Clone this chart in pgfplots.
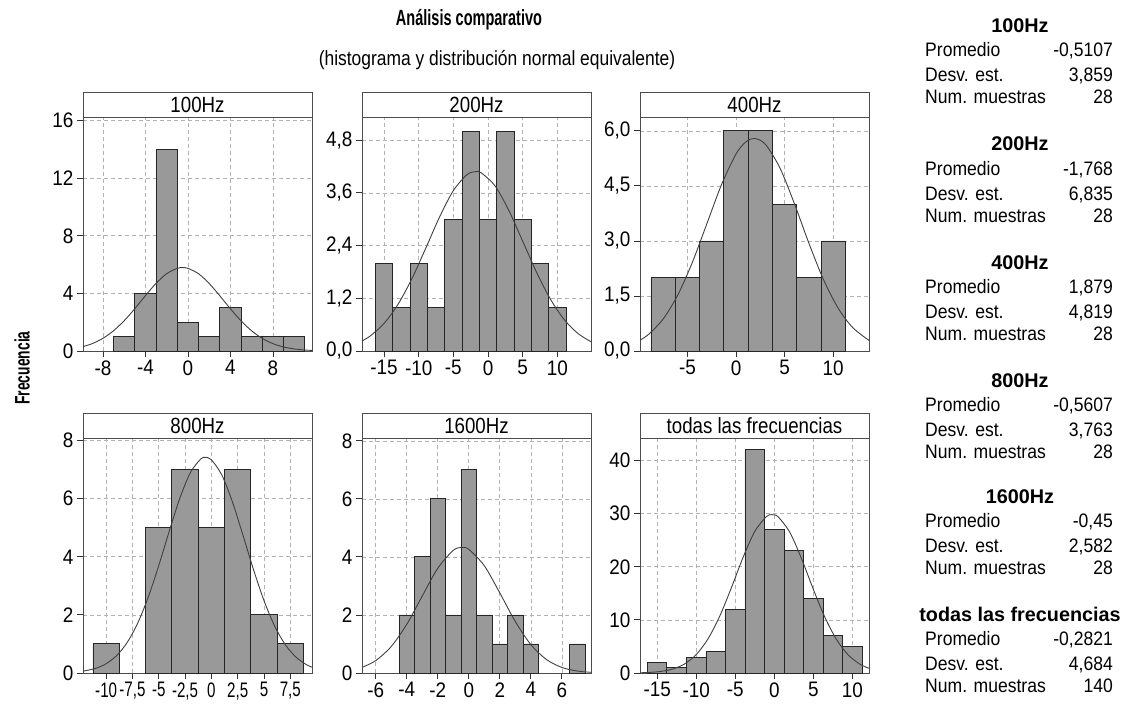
\documentclass[border=0pt]{standalone}
\usepackage{fontspec}
\setmainfont{Liberation Sans}
\newfontfamily\nf{Liberation Sans}[FakeStretch=0.85]
\newfontfamily\tf{Liberation Sans}[FakeStretch=0.9]
\newfontfamily\tfn{Liberation Sans}[FakeStretch=0.72]
\newfontfamily\statf{Liberation Sans}[FakeStretch=0.9]
\newfontfamily\titf{Liberation Sans}[FakeStretch=0.66]
\usepackage{pgfplots}
\pgfplotsset{compat=1.18}
\colorlet{framecol}{black!70}
\pgfplotsset{
 panel/.style={
   scale only axis, width=229pt, anchor=south west,
   axis line style={draw=framecol, line width=0.9pt},
   grid=major, major grid style={black!30, dash pattern=on 4pt off 3pt, line width=0.7pt},
   tick align=outside, tick pos=left, major tick length=6pt,
   tick style={black!80, line width=0.9pt},
   tick label style={font=\tf\fontsize{21}{21}\selectfont},
   /pgf/number format/assume math mode=true,
   /pgf/number format/use comma,
   clip=false,
 },
 bars/.style={ybar, bar shift=0pt, fill=black!40, draw=black!85, line width=0.9pt},
 curve/.style={smooth, black!75, line width=0.9pt, mark=none},
}
\newcommand{\header}[1]{%
  \draw[framecol, line width=0.9pt, fill=white] (rel axis cs:0,1) rectangle ([yshift=25pt]rel axis cs:1,1);
  \node[font=\nf\fontsize{22}{22}\selectfont, anchor=base, inner sep=0pt] at ([yshift=4.6pt]rel axis cs:0.5,1) {#1};}
\newcommand{\statblock}[5]{%
  \pgfmathsetmacro{\yh}{708-#1-7.1}
  \pgfmathsetmacro{\ya}{708-#1-25-7}
  \pgfmathsetmacro{\yb}{708-#1-50-7}
  \pgfmathsetmacro{\yc}{708-#1-72-7}
  \node[anchor=base, font=\bfseries\fontsize{19.8}{20}\selectfont, inner sep=0pt] at (1020pt,\yh pt) {#2};
  \node[anchor=base west, font=\statf\fontsize{19.5}{20}\selectfont, inner sep=0pt] at (925pt,\ya pt) {Promedio};
  \node[anchor=base east, font=\statf\fontsize{19.5}{20}\selectfont, inner sep=0pt] at (1113pt,\ya pt) {#3};
  \node[anchor=base west, font=\statf\fontsize{19.5}{20}\selectfont, inner sep=0pt] at (925pt,\yb pt) {Desv. est.};
  \node[anchor=base east, font=\statf\fontsize{19.5}{20}\selectfont, inner sep=0pt] at (1113pt,\yb pt) {#4};
  \node[anchor=base west, font=\statf\fontsize{19.5}{20}\selectfont, inner sep=0pt] at (925pt,\yc pt) {Num. muestras};
  \node[anchor=base east, font=\statf\fontsize{19.5}{20}\selectfont, inner sep=0pt] at (1113pt,\yc pt) {#5};
}
\begin{document}
\begin{tikzpicture}
\path[use as bounding box] (0pt,0pt) rectangle (1129pt,708pt);

% titles
\node[font=\titf\bfseries\fontsize{22}{22}\selectfont] at (469pt,688pt) {Análisis comparativo};
\node[font=\nf\fontsize{20.5}{20.5}\selectfont] at (497pt,648pt) {(histograma y distribución normal equivalente)};
\node[rotate=90, font=\titf\bfseries\fontsize{21}{21}\selectfont] at (22pt,340pt) {Frecuencia};

% ---------- 100Hz
\begin{axis}[panel, at={(83pt,357pt)}, height=234pt,
  xmin=-9.88, xmax=11.67, ymin=0, ymax=16.25,
  xtick={-8,-4,0,4,8}, ytick={0,4,8,12,16}]
\addplot[bars, bar width=2] coordinates {(-6,1) (-4,4) (-2,14) (0,2) (2,1) (4,3) (6,1) (8,1) (10,1)};
\addplot[curve] coordinates {(-9.88,0.3038) (-9,0.5148) (-8,0.8804) (-7,1.4078) (-6,2.1049) (-5,2.9427) (-4,3.8464) (-3,4.7017) (-2,5.3735) (-1,5.7426) (-0.5107,5.789) (0,5.7385) (1,5.3619) (2,4.6847) (3,3.8272) (4,2.9236) (5,2.0884) (6,1.3947) (7,0.8709) (8,0.5086) (9,0.2778) (10,0.1418) (11,0.0677) (11.67,0.0397)};
\header{100Hz}
\end{axis}

% ---------- 200Hz
\begin{axis}[panel, at={(362pt,357pt)}, height=234pt,
  xmin=-18.18, xmax=14.86, ymin=0, ymax=5.33,
  xtick={-15,-10,-5,0,5,10}, ytick={0,1.2,2.4,3.6,4.8},
  yticklabel style={/pgf/number format/.cd, fixed, fixed zerofill, precision=1}]
\addplot[bars, bar width=2.5] coordinates {(-15,2) (-12.5,1) (-10,2) (-7.5,1) (-5,3) (-2.5,5) (0,3) (2.5,5) (5,3) (7.5,2) (10,1)};
\addplot[curve] coordinates {(-18.18,0.2287) (-17,0.3410) (-15,0.6272) (-13,1.0589) (-11,1.6410) (-9,2.3342) (-7,3.0481) (-5,3.6535) (-3,4.0199) (-1.768,4.0857) (-1,4.0600) (1,3.7640) (3,3.2034) (5,2.5024) (7,1.7945) (9,1.1811) (11,0.7138) (13,0.3959) (14.86,0.2119)};
\header{200Hz}
\end{axis}

% ---------- 400Hz
\begin{axis}[panel, at={(640pt,357pt)}, height=234pt,
  xmin=-9.88, xmax=13.68, ymin=0, ymax=6.38,
  xtick={-5,0,5,10}, ytick={0,1.5,3,4.5,6},
  yticklabel style={/pgf/number format/.cd, fixed, fixed zerofill, precision=1}]
\addplot[bars, bar width=2.5] coordinates {(-7.5,2) (-5,2) (-2.5,3) (0,6) (2.5,6) (5,4) (7.5,2) (10,3)};
\addplot[curve] coordinates {(-9.88,0.2952) (-9,0.4533) (-7.5,0.8720) (-6,1.5225) (-4.5,2.4130) (-3,3.4710) (-1.5,4.5320) (0,5.3709) (1,5.6994) (1.879,5.795) (3,5.6403) (4.5,4.9983) (6,4.0202) (7.5,2.9349) (9,1.9447) (10.5,1.1698) (12,0.6386) (13.68,0.2890)};
\header{400Hz}
\end{axis}

% ---------- 800Hz
\begin{axis}[panel, at={(83pt,35pt)}, height=235pt,
  xmin=-12.2, xmax=9.56, ymin=0, ymax=8.09,
  xtick={-10,-7.5,-5,-2.5,0,2.5,5,7.5}, ytick={0,2,4,6,8},
  xticklabel style={font=\tfn\fontsize{21}{21}\selectfont}]
\addplot[bars, bar width=2.5] coordinates {(-10,1) (-5,5) (-2.5,7) (0,5) (2.5,7) (5,2) (7.5,1)};
\addplot[curve] coordinates {(-12.2,0.0621) (-11,0.1582) (-10,0.3193) (-9,0.6002) (-8,1.0512) (-7,1.7164) (-6,2.6108) (-5,3.7004) (-4,4.8872) (-3,6.0147) (-2,6.8976) (-1,7.3707) (-0.5607,7.4211) (0,7.3392) (1,6.8095) (2,5.8873) (3,4.7428) (4,3.5604) (5,2.4904) (6,1.6232) (7,0.9860) (8,0.5579) (9,0.2942) (9.56,0.1994)};
\header{800Hz}
\end{axis}

% ---------- 1600Hz
\begin{axis}[panel, at={(362pt,35pt)}, height=235pt,
  xmin=-6.89, xmax=7.88, ymin=0, ymax=8.1,
  xtick={-6,-4,-2,0,2,4,6}, ytick={0,2,4,6,8}]
\addplot[bars, bar width=1] coordinates {(-4,2) (-3,4) (-2,6) (-1,2) (0,7) (1,2) (2,1) (3,2) (4,1) (7,1)};
\addplot[curve] coordinates {(-6.89,0.1929) (-6,0.4294) (-5,0.9158) (-4,1.6813) (-3,2.6566) (-2,3.6129) (-1,4.2293) (-0.45,4.3263) (0,4.2611) (1,3.6951) (2,2.7580) (3,1.7719) (4,0.9797) (5,0.4663) (6,0.1910) (7,0.0674) (7.88,0.0238)};
\header{1600Hz}
\end{axis}

% ---------- todas
\begin{axis}[panel, at={(640pt,35pt)}, height=235pt,
  xmin=-17.2, xmax=12.14, ymin=0, ymax=44.25,
  xtick={-15,-10,-5,0,5,10}, ytick={0,10,20,30,40}]
\addplot[bars, bar width=2.5] coordinates {(-15,2) (-12.5,1) (-10,3) (-7.5,4) (-5,12) (-2.5,42) (0,27) (2.5,23) (5,14) (7.5,7) (10,5)};
\addplot[curve] coordinates {(-17.2,0.0438) (-16,0.1070) (-14.5,0.2977) (-13,0.7473) (-11.5,1.6941) (-10,3.4645) (-8.5,6.3970) (-7,10.659) (-5.5,16.028) (-4,21.755) (-2.5,26.649) (-1,29.462) (-0.2821,29.810) (0.5,29.397) (2,26.474) (3.5,21.516) (5,15.783) (6.5,10.450) (8,6.2437) (9.5,3.3673) (11,1.6392) (12.14,0.8854)};
\header{todas las frecuencias}
\end{axis}

% ---------- stats
\statblock{25}{100Hz}{-0,5107}{3,859}{28}
\statblock{143.5}{200Hz}{-1,768}{6,835}{28}
\statblock{262}{400Hz}{1,879}{4,819}{28}
\statblock{380}{800Hz}{-0,5607}{3,763}{28}
\statblock{496}{1600Hz}{-0,45}{2,582}{28}
\statblock{614}{todas las frecuencias}{-0,2821}{4,684}{140}
\end{tikzpicture}
\end{document}
